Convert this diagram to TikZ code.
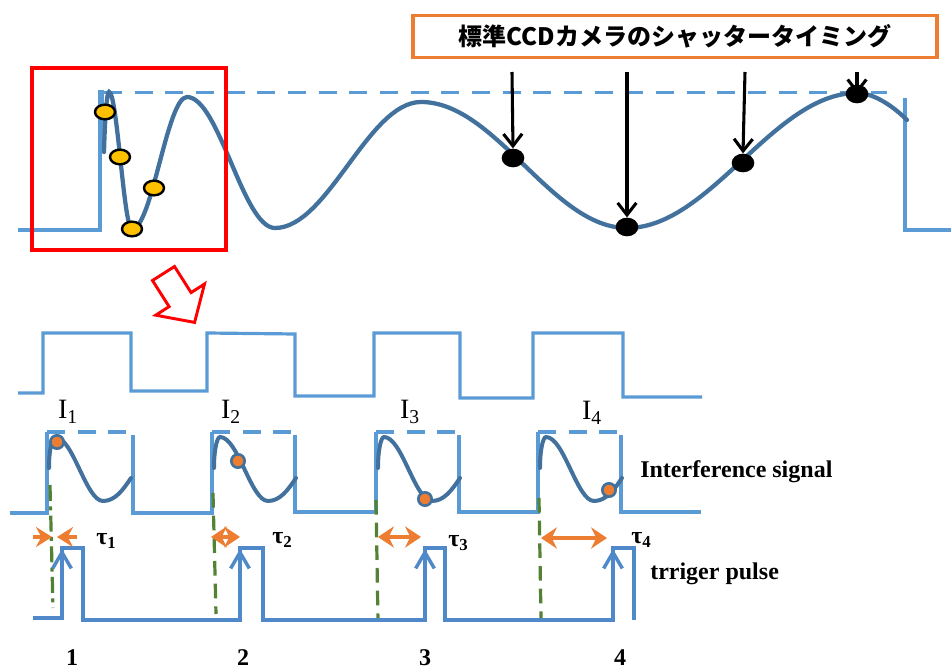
\documentclass[tikz,border=0pt]{standalone}
\usepackage{fontspec}
\setmainfont{Liberation Serif}
\newfontfamily\jpfont{Noto Sans CJK JP}
\usetikzlibrary{arrows.meta,shapes.geometric}

\definecolor{sigblue}{HTML}{5B9BD5}
\definecolor{trigblue}{HTML}{4F89C9}
\definecolor{wave}{HTML}{41719C}
\definecolor{accent}{HTML}{ED7D31}
\definecolor{dashgreen}{HTML}{548235}
\definecolor{dotyellow}{HTML}{FFC000}

\begin{document}
\begin{tikzpicture}[x=0.75pt,y=-0.75pt,
  sig/.style={sigblue, line width=2.4pt, line join=miter},
  sigdash/.style={sig, dash pattern=on 13.5pt off 9.5pt},
  trigline/.style={trigblue, line width=2.4pt, line join=miter},
  wavepath/.style={wave, line width=3pt, line cap=round},
  camarrow/.style={black, line width=2.3pt, -{Straight Barb[length=9pt,width=14pt]}},
  trighead/.style={trigblue, line width=2.6pt, -{Straight Barb[length=12pt,width=14pt]}},
  gap/.style={accent, line width=2.6pt, {Stealth[length=12pt,width=16pt,inset=4pt]}-{Stealth[length=12pt,width=16pt,inset=4pt]}},
  onegap/.style={accent, line width=2.6pt, -{Stealth[length=12pt,width=15pt,inset=4pt]}},
  greenline/.style={dashgreen, line width=2.4pt, dash pattern=on 11pt off 6pt},
  ydot/.style={ellipse, draw=black, line width=1.8pt, fill=dotyellow, minimum width=15pt, minimum height=11pt, inner sep=0pt},
  bdot/.style={ellipse, fill=black, minimum width=17pt, minimum height=14pt, inner sep=0pt},
  odot/.style={circle, draw=wave, line width=2pt, fill=accent, minimum size=10pt, inner sep=0pt},
  lab/.style={font=\fontsize{18pt}{20pt}\selectfont\bfseries, inner sep=0pt},
  ilab/.style={font=\fontsize{21pt}{23pt}\selectfont, inner sep=0pt, anchor=base}
]
\useasboundingbox (0,0) rectangle (951,670);

% ---------- upper trace ----------
\draw[sig] (18,230) -- (100,230) -- (100,92) -- (104,92);
\draw[sig, line width=1.6pt] (102.5,92) -- (102.5,150);
\draw[sig] (905,98) -- (905,230) -- (951,230);
\draw[sigdash] (104,92.5) -- (887,92.5);

\draw[wavepath, line width=3.2pt] (104,152) .. controls (105,115) and (107,92) .. (109,92)
  .. controls (117.3,92) and (123.7,229) .. (132,229)
  .. controls (152,229) and (167,97) .. (187,97)
  .. controls (219,97) and (243,228) .. (275,228)
  .. controls (328,228) and (368,102) .. (421,102)
  .. controls (496,102) and (552,228) .. (627,228)
  .. controls (710.5,228) and (773.5,93) .. (857,93)
  .. controls (875,93) and (895,108) .. (907,120);

% sampled points of the fast acquisition
\node[ydot] (y1) at (105,112) {};
\node[ydot] (y2) at (120,157) {};
\node[ydot] (y3) at (154,188) {};
\node[ydot] (y4) at (132,229) {};

% zoom frame and hollow arrow
\draw[red, line width=3pt] (32,68) rectangle (226,250);
\draw[red, line width=2.2pt, fill=white, line join=miter]
  (152.5,280.5) -- (174.5,266.5) -- (191.1,292.6) -- (204.5,284.0) -- (194.6,322.4)
  -- (155.7,315.2) -- (169.1,306.6) -- cycle;

% camera shutter timing
\node[draw=accent, line width=2.4pt, fill=white, minimum width=393pt, minimum height=32pt, inner sep=0pt,
      font=\jpfont\fontsize{18pt}{20pt}\selectfont\bfseries] (title) at (675,36.5) {標準CCDカメラのシャッタータイミング};

\node[bdot] (b1) at (513,158) {};
\node[bdot] (b2) at (627,227) {};
\node[bdot] (b3) at (743,163) {};
\node[bdot] (b4) at (857,94) {};
\coordinate (c1) at (512,72);
\coordinate (c2) at (627,72);
\coordinate (c3) at (745,72);
\coordinate (c4) at (857,72);
\draw[camarrow] (c1) -- (b1.north);
\draw[camarrow] (c2) -- (b2.north);
\draw[camarrow] (c3) -- (b3.north);
\draw[camarrow] (c4) -- (b4.center);

% ---------- square gate ----------
\draw[sig] (18,393) -- (43,393) -- (43,333) -- (131,333) -- (131,391) -- (207,391) -- (207,333)
  -- (295,334) -- (295,396) -- (374,396) -- (374,333) -- (460,333) -- (460,398) -- (533,398)
  -- (533,333) -- (623,333) -- (623,397) -- (702,397);

\node[ilab] (i1) at (68,419) {I\textsubscript{1}};
\node[ilab] (i2) at (231,419) {I\textsubscript{2}};
\node[ilab] (i3) at (410,419) {I\textsubscript{3}};
\node[ilab] (i4) at (592,420) {I\textsubscript{4}};

% ---------- interference signal ----------
\draw[sig] (10,513) -- (47,513) -- (47,432);
\draw[sig] (133,435) -- (133,513) -- (212,513) -- (212,432);
\draw[sig] (295,435) -- (295,512) -- (376,512) -- (376,432);
\draw[sig] (459,435) -- (459,512) -- (538,512) -- (538,432);
\draw[sig] (621,435) -- (621,512) -- (701,512);
\draw[sigdash] (47,432) -- (131,432);
\draw[sigdash] (212,432) -- (293,432);
\draw[sigdash] (376,432) -- (457,432);
\draw[sigdash] (538,432) -- (617,432);

\foreach \L in {47,212,376,538}{
  \draw[wavepath] ({\L+2},468) .. controls ({\L+2},450) and ({\L+5},437) .. ({\L+8},437)
    .. controls ({\L+26},437) and ({\L+39},501) .. ({\L+56},501)
    .. controls ({\L+68},501) and ({\L+76},490) .. ({\L+84},478);
}
\node[odot] (o1) at (57,442) {};
\node[odot] (o2) at (238,461) {};
\node[odot] (o3) at (425,499) {};
\node[odot] (o4) at (609,490) {};

\node[lab, anchor=base west] (sigtxt) at (640,478) {Interference signal};

% ---------- delay markers ----------
\draw[dashgreen, line width=2.4pt, dash pattern=on 12pt off 4pt on 3pt off 4pt] (50,485) -- (53,608);
\draw[greenline] (213,493) -- (216,614);
\draw[greenline] (376,500) -- (378,621);
\draw[greenline] (539,498) -- (541,618);

% ---------- trigger pulses ----------
\draw[trigline] (33,618) -- (62,618) -- (62,548) -- (83,548) -- (83,620) -- (240,620) -- (240,548)
  -- (263,548) -- (263,620) -- (425,620) -- (425,548) -- (445,548) -- (445,620) -- (613,620)
  -- (613,548) -- (634,548) -- (634,620);
\coordinate (t1) at (62,549);
\coordinate (t2) at (240,549);
\coordinate (t3) at (425,549);
\coordinate (t4) at (613,549);
\draw[trighead] (62,580) -- (t1);
\draw[trighead] (240,580) -- (t2);
\draw[trighead] (425,580) -- (t3);
\draw[trighead] (613,580) -- (t4);

\coordinate (g1a) at (33,537);
\coordinate (g1b) at (52,537);
\coordinate (g1c) at (77,537);
\coordinate (g1d) at (57,537);
\draw[onegap] (g1a) -- (g1b);
\draw[onegap] (g1c) -- (g1d);
\coordinate (g2a) at (211,537);
\coordinate (g2b) at (240,537);
\draw[gap] (g2a) -- (g2b);
\coordinate (g3a) at (378,537);
\coordinate (g3b) at (421,537);
\draw[gap] (g3a) -- (g3b);
\coordinate (g4a) at (541,538);
\coordinate (g4b) at (607,538);
\draw[gap] (g4a) -- (g4b);

\node[lab, anchor=base west] (tau1) at (96,545) {τ\textsubscript{1}};
\node[lab, anchor=base west] (tau2) at (272,544) {τ\textsubscript{2}};
\node[lab, anchor=base west] (tau3) at (448,547) {τ\textsubscript{3}};
\node[lab, anchor=base west] (tau4) at (631,544) {τ\textsubscript{4}};

\node[lab, anchor=base west] (trigtxt) at (650,580) {trriger pulse};

\node[lab, anchor=base] (n1) at (72,665) {1};
\node[lab, anchor=base] (n2) at (243,665) {2};
\node[lab, anchor=base] (n3) at (425,665) {3};
\node[lab, anchor=base] (n4) at (620,665) {4};
\end{tikzpicture}
\end{document}
